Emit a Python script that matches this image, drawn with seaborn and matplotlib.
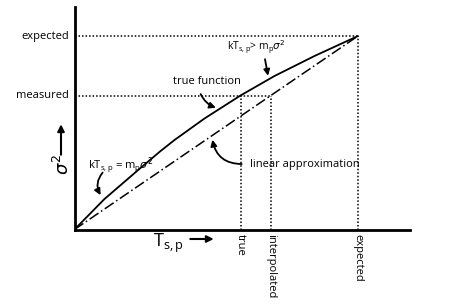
import pandas as pd
import seaborn as sns
import matplotlib.pyplot as plt

# schematic: true function vs linear approximation (units = pixels of the original sketch)
curve_T = [0, 30, 66, 85.5, 100, 130, 166, 200, 240, 283.5]
curve_s2 = [0, 30.5, 61.5, 78, 89.5, 111, 134, 153.5, 173.5, 193.5]

expected_T = 283.5
expected_s2 = 193.5
measured_s2 = 134
true_T = 166
interp_T = 196.5

y_labels = ["measured", "expected"]
x_labels = ["true", "interpolated", "expected"]

sns.set_style("white")
plt.rcParams['font.family'] = ['Open Sans', 'DejaVu Sans']
plt.rcParams['text.color'] = 'black'

fig = plt.figure(figsize=(4.57, 3.05), dpi=100)
W, H = 457, 305
ax = fig.add_axes([74.5 / W, (H - 229.5) / H, (410 - 74.5) / W, (229.5 - 7) / H])
ax.set_xlim(0, 335.5)
ax.set_ylim(0, 222.5)

df_true = pd.DataFrame({'T': curve_T, 's2': curve_s2})
df_lin = pd.DataFrame({'T': [0, expected_T], 's2': [0, expected_s2]})
sns.lineplot(data=df_true, x='T', y='s2', color='black', lw=1.3, ax=ax, sort=False)
sns.lineplot(data=df_lin, x='T', y='s2', color='black', lw=1.1, ax=ax,
             linestyle=(0, (7, 2, 1, 2)))

dot = dict(color='black', lw=1.1, linestyle=(0, (1, 1.3)))
ax.plot([0, expected_T], [expected_s2, expected_s2], **dot)
ax.plot([0, interp_T], [measured_s2, measured_s2], **dot)
ax.plot([true_T, true_T], [0, measured_s2], **dot)
ax.plot([interp_T, interp_T], [0, measured_s2], **dot)
ax.plot([expected_T, expected_T], [0, expected_s2], **dot)

for s in ['top', 'right']:
    ax.spines[s].set_visible(False)
for s in ['left', 'bottom']:
    ax.spines[s].set_linewidth(2)
    ax.spines[s].set_color('black')
ax.set_xticks([])
ax.set_yticks([])
ax.set_xlabel('')
ax.set_ylabel('')

fs = 8
ax.text(-5.5, expected_s2, y_labels[1], ha='right', va='center', fontsize=fs)
ax.text(-5.5, measured_s2, y_labels[0], ha='right', va='center', fontsize=fs)
for xv, lab in zip([true_T, interp_T, expected_T], x_labels):
    ax.text(xv, -4, lab, rotation=270, ha='center', va='top', fontsize=fs, clip_on=False)

# axis labels with arrows
ax.text(-12, 65, r'$\sigma^2$', rotation=90, ha='center', va='center', fontsize=13)
ax.annotate('', xy=(-13.5, 108), xytext=(-13.5, 72),
            arrowprops=dict(arrowstyle='-|>', color='black', lw=1.5, mutation_scale=10),
            annotation_clip=False)
ax.text(94, -14, r'T$_\mathregular{s,p}$', ha='center', va='center', fontsize=13)
ax.annotate('', xy=(142, -9.5), xytext=(113, -9.5),
            arrowprops=dict(arrowstyle='-|>', color='black', lw=1.5, mutation_scale=10),
            annotation_clip=False)

# callouts
ax.text(132.5, 147.5, 'true function', ha='center', va='center', fontsize=fs)
ax.annotate('', xy=(144, 121), xytext=(125, 138),
            arrowprops=dict(arrowstyle='-|>', color='black', lw=1.3, mutation_scale=9,
                            connectionstyle='arc3,rad=0.25'))
ax.text(182, 182.5, r'kT$_\mathregular{s,p}$> m$_\mathregular{p}$$\sigma^2$',
        ha='center', va='center', fontsize=7.5)
ax.annotate('', xy=(194, 151), xytext=(190, 173),
            arrowprops=dict(arrowstyle='-|>', color='black', lw=1.3, mutation_scale=9))
ax.text(46, 63.5, r'kT$_\mathregular{s,p}$ = m$_\mathregular{p}$$\sigma^2$',
        ha='center', va='center', fontsize=fs)
ax.annotate('', xy=(27.5, 32), xytext=(30, 59),
            arrowprops=dict(arrowstyle='-|>', color='black', lw=1.3, mutation_scale=9,
                            connectionstyle='arc3,rad=0.4'))
ax.text(175, 65.5, 'linear approximation', ha='left', va='center', fontsize=fs)
ax.annotate('', xy=(137.5, 92.5), xytext=(170, 65.5),
            arrowprops=dict(arrowstyle='-|>', color='black', lw=1.3, mutation_scale=9,
                            connectionstyle='arc3,rad=-0.45'))

fig.savefig('out.png', dpi=100)
